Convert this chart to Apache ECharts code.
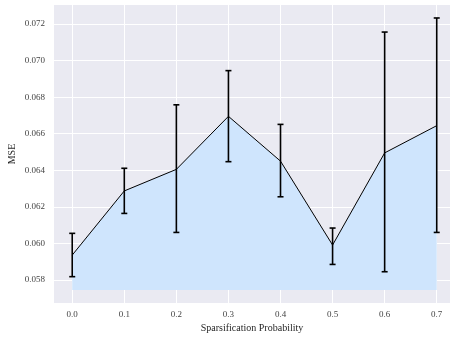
<!DOCTYPE html>
<html>
<head>
<meta charset="utf-8">
<script src="https://cdn.jsdelivr.net/npm/echarts@6/dist/echarts.min.js"></script>
<style>html,body{margin:0;padding:0;background:#fff}#c{width:450px;height:339px}</style>
</head>
<body>
<div id="c"></div>
<script>
const xValues = [0.0, 0.1, 0.2, 0.3, 0.4, 0.5, 0.6, 0.7];
const meanMSE = [0.05936, 0.06287, 0.06405, 0.06695, 0.06450, 0.05991, 0.06495, 0.06644];
const lowerMSE = [0.05818, 0.06164, 0.06060, 0.06447, 0.06255, 0.05885, 0.05845, 0.06060];
const upperMSE = [0.06055, 0.06411, 0.06758, 0.06945, 0.06651, 0.06084, 0.07156, 0.07233];
const fillBase = 0.05745;
const xTicks = [0.0, 0.1, 0.2, 0.3, 0.4, 0.5, 0.6, 0.7];
const yTicks = [0.058, 0.060, 0.062, 0.064, 0.066, 0.068, 0.070, 0.072];

const chart = echarts.init(document.getElementById('c'), null, {renderer: 'canvas'});
const font = '"Liberation Serif", "DejaVu Serif", serif';

const lineData = xValues.map((x, i) => [x, meanMSE[i]]);
const errData = xValues.map((x, i) => [x, lowerMSE[i], upperMSE[i]]);

chart.setOption({
  animation: false,
  grid: {left: 54, right: 0, top: 5, bottom: 36, show: true, backgroundColor: '#EAEAF2', borderWidth: 0,
    containLabel: false, outerBoundsMode: 'none'},
  xAxis: {
    type: 'value', min: -0.035, max: 0.7255,
    name: 'Sparsification Probability', nameLocation: 'middle', nameGap: 20, nameMoveOverlap: false,
    nameTextStyle: {fontFamily: font, fontSize: 10, color: '#262626'},
    axisLine: {show: false}, axisTick: {show: false, customValues: xTicks},
    axisLabel: {customValues: xTicks, fontFamily: font, fontSize: 9, color: '#444', margin: 7,
      formatter: v => v.toFixed(1)},
    splitLine: {show: true, customValues: xTicks, lineStyle: {color: '#fff', width: 1}}
  },
  yAxis: {
    type: 'value', min: 0.05674, max: 0.07304,
    name: 'MSE', nameLocation: 'middle', nameGap: 37, nameMoveOverlap: false,
    nameTextStyle: {fontFamily: font, fontSize: 10, color: '#262626'},
    axisLine: {show: false}, axisTick: {show: false, customValues: yTicks},
    axisLabel: {customValues: yTicks, fontFamily: font, fontSize: 9, color: '#444', margin: 9,
      formatter: v => v.toFixed(3)},
    splitLine: {show: true, customValues: yTicks, lineStyle: {color: '#fff', width: 1}}
  },
  series: [
    {
      type: 'line', data: lineData, symbol: 'none',
      lineStyle: {color: '#000', width: 1},
      areaStyle: {color: '#CFE5FD', opacity: 1, origin: fillBase},
      z: 2
    },
    {
      type: 'custom', data: errData, z: 3,
      renderItem: function (params, api) {
        const x = api.value(0);
        const lo = api.coord([x, api.value(1)]);
        const hi = api.coord([x, api.value(2)]);
        const hw = 3;
        const st = {stroke: '#000', lineWidth: 1.6};
        return {type: 'group', children: [
          {type: 'line', shape: {x1: lo[0], y1: lo[1], x2: hi[0], y2: hi[1]}, style: st},
          {type: 'line', shape: {x1: lo[0]-hw, y1: lo[1], x2: lo[0]+hw, y2: lo[1]}, style: st},
          {type: 'line', shape: {x1: hi[0]-hw, y1: hi[1], x2: hi[0]+hw, y2: hi[1]}, style: st}
        ]};
      }
    }
  ]
});
</script>
</body>
</html>
